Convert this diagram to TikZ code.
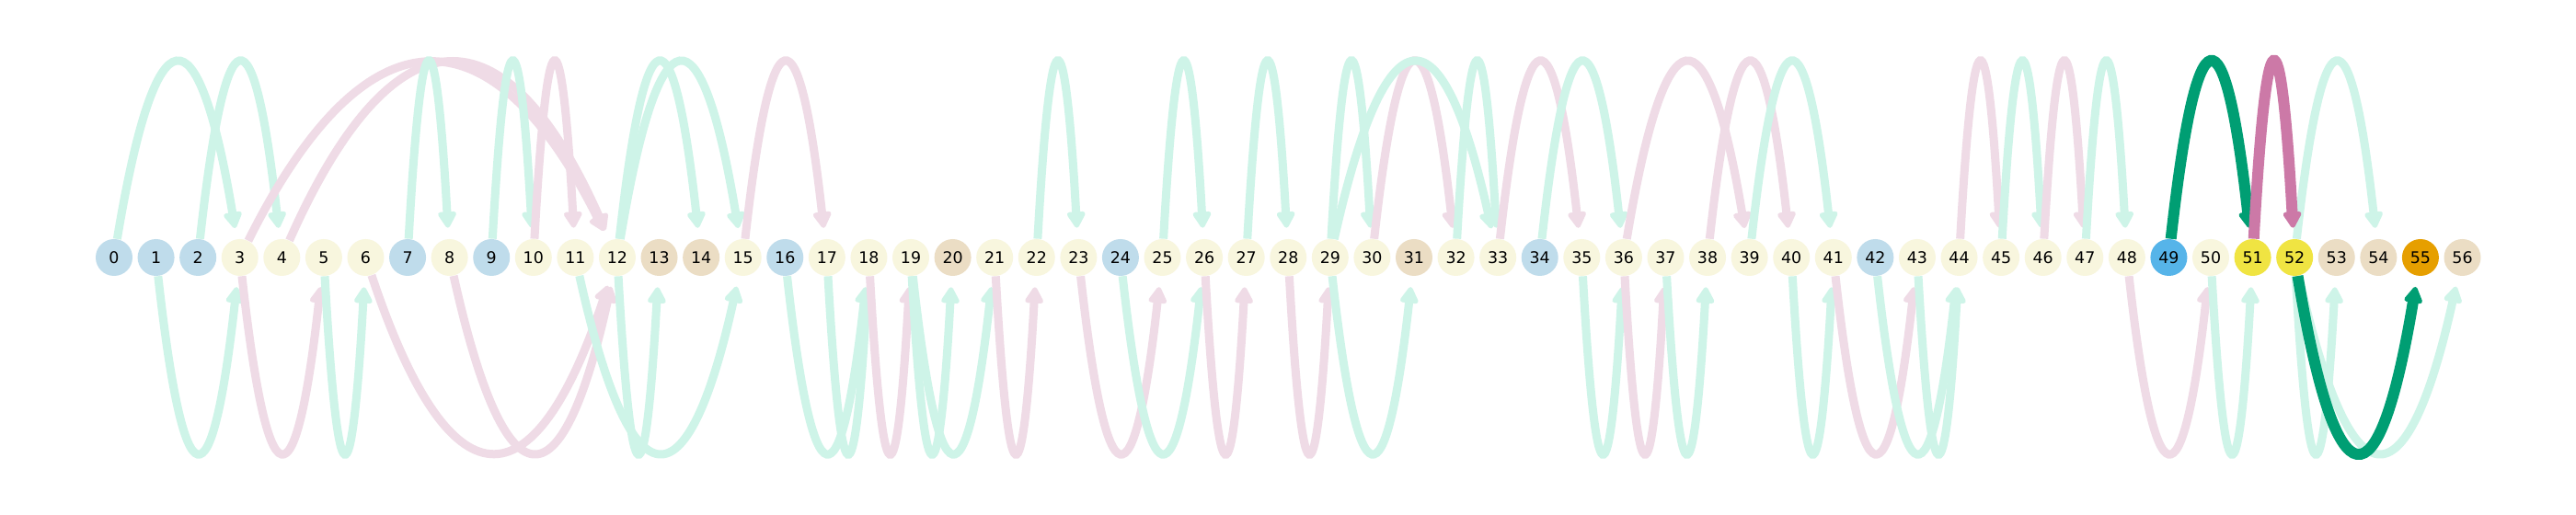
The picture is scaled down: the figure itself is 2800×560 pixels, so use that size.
\documentclass[tikz,border=0pt]{standalone}
\usepackage{fontspec}
\setmainfont{DejaVu Sans}
\usetikzlibrary{arrows.meta,calc}
\pgfdeclarelayer{bg}
\pgfsetlayers{bg,main}
\definecolor{lcyan}{HTML}{CEF4E8}
\definecolor{lpink}{HTML}{EFDBE6}
\definecolor{dgreen}{HTML}{009E73}
\definecolor{dpink}{HTML}{CC79A7}
\definecolor{nblue}{HTML}{BFDCEB}
\definecolor{ncream}{HTML}{F8F6DE}
\definecolor{ntan}{HTML}{EBDDC4}
\definecolor{nsky}{HTML}{56B4E9}
\definecolor{nyellow}{HTML}{F0E442}
\definecolor{norange}{HTML}{E69F00}
\newcommand\arcup[3]{\draw[#1] (n#2) .. controls ($(n#2)!0.3333!(n#3)+(0,274)$) and ($(n#2)!0.6667!(n#3)+(0,274)$) .. (n#3);}
\newcommand\arcdn[3]{\draw[#1] (n#2) .. controls ($(n#2)!0.3333!(n#3)+(0,-274)$) and ($(n#2)!0.6667!(n#3)+(0,-274)$) .. (n#3);}
\begin{document}
\begin{tikzpicture}[x=0.5pt,y=0.5pt,
  nd/.style={circle,minimum size=20pt,inner sep=0pt,text=black,font=\fontsize{8.7}{10}\selectfont},
  arcline/.style={line width=4.5pt,shorten >=6pt,-{Triangle[width=11pt,length=10pt,round]}},
  ce/.style={arcline,color=lcyan},
  pe/.style={arcline,color=lpink},
  ge/.style={arcline,color=dgreen,line width=6pt},
  qe/.style={arcline,color=dpink,line width=6pt}]
\useasboundingbox (0,-280) rectangle (2800,280);
\foreach \i in {0,1,2,7,9,16,24,34,42}
  \node[nd,fill=nblue] (n\i) at ({124+45.58*\i},0) {\i};
\foreach \i in {3,4,5,6,8,10,11,12,15,17,18,19,21,22,23,25,26,27,28,29,30,32,33,35,36,37,38,39,40,41,43,44,45,46,47,48,50}
  \node[nd,fill=ncream] (n\i) at ({124+45.58*\i},0) {\i};
\foreach \i in {13,14,20,31,53,54,56}
  \node[nd,fill=ntan] (n\i) at ({124+45.58*\i},0) {\i};
\node[nd,fill=nsky] (n49) at ({124+45.58*49},0) {49};
\node[nd,fill=nyellow] (n51) at ({124+45.58*51},0) {51};
\node[nd,fill=nyellow] (n52) at ({124+45.58*52},0) {52};
\node[nd,fill=norange] (n55) at ({124+45.58*55},0) {55};
\begin{pgfonlayer}{bg}
\fill[white] (0,-280) rectangle (2800,280);
% top arcs
\arcup{ce}{0}{3}
\arcup{ce}{2}{4}
\arcup{pe}{3}{12}
\arcup{pe}{4}{12}
\arcup{ce}{7}{8}
\arcup{ce}{9}{10}
\arcup{pe}{10}{11}
\arcup{ce}{12}{14}
\arcup{ce}{12}{15}
\arcup{pe}{15}{17}
\arcup{ce}{22}{23}
\arcup{ce}{25}{26}
\arcup{ce}{27}{28}
\arcup{ce}{29}{30}
\arcup{pe}{30}{32}
\arcup{ce}{29}{33}
\arcup{ce}{32}{33}
\arcup{pe}{33}{35}
\arcup{ce}{34}{36}
\arcup{pe}{36}{39}
\arcup{pe}{38}{40}
\arcup{ce}{39}{41}
\arcup{pe}{44}{45}
\arcup{ce}{45}{46}
\arcup{pe}{46}{47}
\arcup{ce}{47}{48}
\arcup{ce}{52}{54}
% bottom arcs
\arcdn{ce}{1}{3}
\arcdn{pe}{3}{5}
\arcdn{ce}{5}{6}
\arcdn{pe}{6}{12}
\arcdn{pe}{8}{12}
\arcdn{ce}{11}{15}
\arcdn{ce}{12}{13}
\arcdn{ce}{16}{18}
\arcdn{ce}{17}{18}
\arcdn{pe}{18}{19}
\arcdn{ce}{19}{20}
\arcdn{ce}{19}{21}
\arcdn{pe}{21}{22}
\arcdn{pe}{23}{25}
\arcdn{ce}{24}{26}
\arcdn{pe}{26}{27}
\arcdn{pe}{28}{29}
\arcdn{ce}{29}{31}
\arcdn{ce}{35}{36}
\arcdn{pe}{36}{37}
\arcdn{ce}{37}{38}
\arcdn{ce}{40}{41}
\arcdn{pe}{41}{43}
\arcdn{ce}{42}{44}
\arcdn{ce}{43}{44}
\arcdn{pe}{48}{50}
\arcdn{ce}{50}{51}
\arcdn{ce}{52}{53}
\arcdn{ce}{52}{56}
% highlighted arcs
\arcup{ge}{49}{51}
\arcup{qe}{51}{52}
\arcdn{ge}{52}{55}
\end{pgfonlayer}
\end{tikzpicture}
\end{document}
